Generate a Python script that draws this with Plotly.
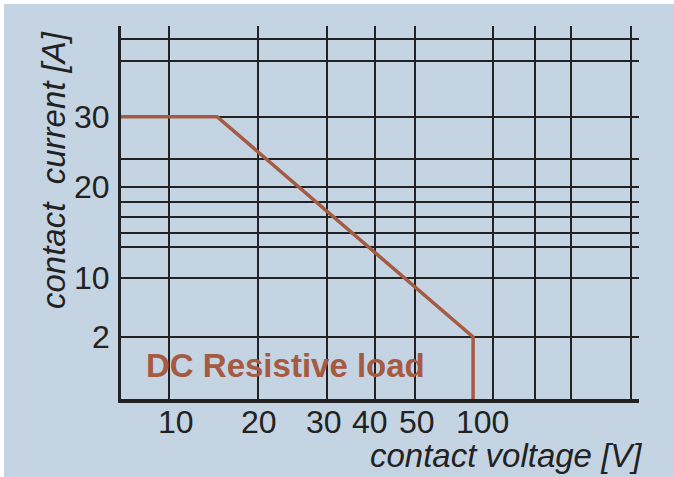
import numpy as np
import plotly.graph_objects as go

# ---- data ----
voltage = [0, 15, 93, 93]          # contact voltage [V]
current = [30, 30, 2, 0]           # contact current [A]
x_tick_values = [10, 20, 30, 40, 50, 100]
x_tick_labels = ["10", "20", "30", "40", "50", "100"]
y_tick_values = [30, 20, 10, 2]
y_tick_labels = ["30", "20", "10", "2"]

# ---- schematic (non-uniform) scale of the original drawing ----
# axis units are plot-area pixels measured from the lower-left corner
x_anchor_val = [0, 10, 20, 30, 40, 50, 100]
x_anchor_pos = [0, 54.5, 137.7, 202.8, 249.3, 296.2, 361.2]
y_anchor_val = [0, 2, 10, 20, 30]
y_anchor_pos = [0, 62, 121, 211.7, 282.3]
x_grid_pos = [47.7, 137.3, 205.7, 253.7, 293.7, 372.3, 413.7, 450.3, 510.3]
y_grid_pos = [62, 121, 152.3, 166.3, 181.7, 197.3, 211.7, 239.7, 282.3, 338, 359.7]

def fx(v):
    return np.interp(v, x_anchor_val, x_anchor_pos)

def fy(v):
    return np.interp(v, y_anchor_val, y_anchor_pos)

W, H = 674, 477
L, R, T, B = 121, 35, 26, 78
PW, PH = W - L - R, H - T - B

def px(xu):
    return xu / PW

def py(yu):
    return yu / PH

BG = "#c4d4e2"
RED = "#a65a42"
INK = "#222222"
FONT = "Liberation Sans, Arial, Helvetica, sans-serif"

fig = go.Figure()
fig.add_trace(go.Scatter(
    x=fx(voltage), y=fy(current), mode="lines",
    line=dict(color=RED, width=3.5), hoverinfo="skip", showlegend=False,
    cliponaxis=False,
))

annotations = []
for v, t in zip(x_tick_values, x_tick_labels):
    annotations.append(dict(x=px(fx(v)), y=py(-22.5), xref="paper", yref="paper", text=t,
                            showarrow=False, xanchor="center", yanchor="middle",
                            font=dict(family=FONT, size=32, color=INK)))
for v, t in zip(y_tick_values, y_tick_labels):
    annotations.append(dict(x=px(-9), y=py(fy(v)), xref="paper", yref="paper", text=t,
                            showarrow=False, xanchor="right", yanchor="middle",
                            font=dict(family=FONT, size=32, color=INK)))
annotations.append(dict(x=px(385), y=py(-56), xref="paper", yref="paper",
                        text="contact voltage [V]",
                        showarrow=False, xanchor="center", yanchor="middle",
                        font=dict(family=FONT, size=33, color=INK, style="italic")))
annotations.append(dict(x=px(-68), y=py(229), xref="paper", yref="paper",
                        text="contact \u00a0current [A]",
                        showarrow=False, xanchor="center", yanchor="middle", textangle=-90,
                        font=dict(family=FONT, size=33, color=INK, style="italic")))
annotations.append(dict(x=px(164), y=py(34), xref="paper", yref="paper",
                        text="<b>DC Resistive load</b>",
                        showarrow=False, xanchor="center", yanchor="middle",
                        font=dict(family=FONT, size=33, color=RED)))

fig.update_layout(
    width=W, height=H,
    margin=dict(l=L, r=R, t=T, b=B),
    paper_bgcolor="white",
    plot_bgcolor="rgba(0,0,0,0)",
    annotations=annotations,
    shapes=[dict(type="rect", xref="paper", yref="paper",
                 x0=(4 - L) / PW, x1=(W - L) / PW,
                 y0=-(H - T - PH) / PH, y1=(PH + T - 4) / PH,
                 fillcolor=BG, line=dict(width=0), layer="below")],
    xaxis=dict(range=[0, PW], tickvals=x_grid_pos, showticklabels=False, ticks="",
               showgrid=True, gridcolor=INK, gridwidth=2, zeroline=False,
               showline=True, linecolor=INK, linewidth=3.5, fixedrange=True),
    yaxis=dict(range=[0, PH], tickvals=y_grid_pos, showticklabels=False, ticks="",
               showgrid=True, gridcolor=INK, gridwidth=2, zeroline=False,
               showline=True, linecolor=INK, linewidth=3, fixedrange=True),
)

fig.write_html("out.html", config={"displayModeBar": False},
               post_script="document.body.style.margin='0';")
